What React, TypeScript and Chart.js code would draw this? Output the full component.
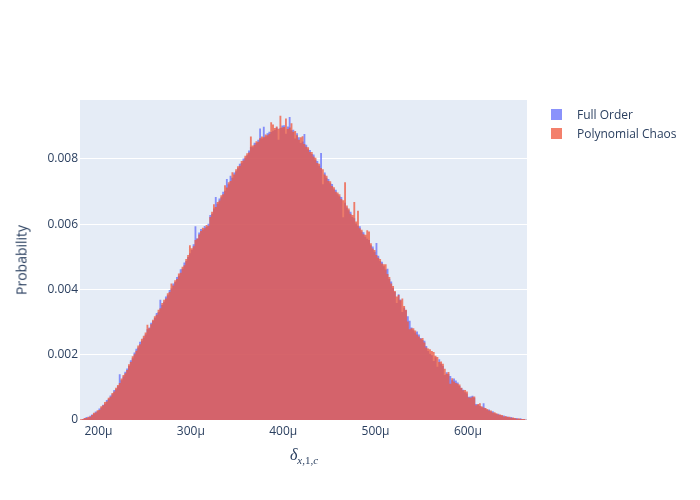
import React, { useEffect, useRef } from "react";
import { Chart, registerables } from "chart.js";

Chart.register(...registerables);

// Histogram bins (in μ): first bin starts at binStart, each bin binSize wide
const binStart = 180;
const binSize = 2;

const seriesNames = ["Full Order", "Polynomial Chaos"];

const fullOrder = [
  0, 0.00002, 0.00005, 0.00009, 0.00008,
  0.00013, 0.00017, 0.00019, 0.00026, 0.00027,
  0.00035, 0.00038, 0.00047, 0.0005, 0.00061,
  0.00064, 0.00075, 0.00079, 0.00092, 0.00094,
  0.00103, 0.0014, 0.00122, 0.00133, 0.00148,
  0.00158, 0.00165, 0.00183, 0.00189, 0.00207,
  0.00218, 0.00222, 0.0024, 0.00243, 0.00252,
  0.00262, 0.00278, 0.00283, 0.00298, 0.00303,
  0.00312, 0.00328, 0.00331, 0.00368, 0.00352,
  0.00362, 0.00378, 0.00382, 0.00398, 0.00403,
  0.00418, 0.00423, 0.00438, 0.00442, 0.00462,
  0.00463, 0.00482, 0.00487, 0.00499, 0.00511,
  0.00521, 0.00538, 0.00593, 0.00556, 0.00574,
  0.00585, 0.00583, 0.00594, 0.00591, 0.00601,
  0.00628, 0.00632, 0.00648, 0.00683, 0.00662,
  0.00678, 0.00682, 0.00699, 0.00702, 0.00738,
  0.00722, 0.00748, 0.00742, 0.00758, 0.00762,
  0.00771, 0.00785, 0.00787, 0.00801, 0.00803,
  0.00811, 0.00825, 0.00837, 0.00835, 0.00849,
  0.00848, 0.00858, 0.00893, 0.00862, 0.00898,
  0.00868, 0.00878, 0.00883, 0.00882, 0.00886,
  0.00888, 0.00896, 0.00858, 0.00894, 0.00902,
  0.00903, 0.00877, 0.00899, 0.00928, 0.00887,
  0.00889, 0.00862, 0.00878, 0.00866, 0.00848,
  0.00853, 0.00876, 0.00843, 0.00829, 0.00827,
  0.00815, 0.00813, 0.00797, 0.00793, 0.00779,
  0.00818, 0.00722, 0.00758, 0.00742, 0.00738,
  0.00725, 0.00723, 0.00707, 0.00705, 0.00691,
  0.00685, 0.00683, 0.00621, 0.00665, 0.00651,
  0.00642, 0.00638, 0.00622, 0.00618, 0.00602,
  0.00595, 0.00593, 0.00577, 0.00575, 0.00561,
  0.00555, 0.00551, 0.00535, 0.00531, 0.00515,
  0.00542, 0.00503, 0.00487, 0.00485, 0.00471,
  0.00461, 0.00463, 0.00432, 0.00424, 0.00404,
  0.00392, 0.00358, 0.00385, 0.00369, 0.00331,
  0.00344, 0.00336, 0.00318, 0.00304, 0.00283,
  0.00275, 0.00268, 0.00271, 0.00262, 0.00251,
  0.00245, 0.00243, 0.00227, 0.00211, 0.00203,
  0.00198, 0.00181, 0.00192, 0.00163, 0.00186,
  0.00172, 0.00165, 0.00138, 0.00146, 0.00141,
  0.00135, 0.00122, 0.00127, 0.00121, 0.00115,
  0.00104, 0.00098, 0.00093, 0.00085, 0.00081,
  0.00071, 0.00072, 0.00074, 0.00068, 0.00049,
  0.00047, 0.00043, 0.00039, 0.00051, 0.00036,
  0.00031, 0.00032, 0.00026, 0.00027, 0.00021,
  0.00018, 0.00019, 0.00015, 0.00013, 0.00014,
  0.0001, 0.00011, 0.00008, 0.00009, 0.00006,
  0.00005, 0.00006, 0.00003, 0.00005, 0.00002,
  0.00002, 0.00001,
];

const polynomialChaos = [
  0.00002, 0.00003, 0.00006, 0.00006, 0.0001,
  0.0001, 0.00015, 0.00022, 0.00023, 0.0003,
  0.00031, 0.00042, 0.00045, 0.00055, 0.00057,
  0.00068, 0.00071, 0.00083, 0.00087, 0.00099,
  0.00107, 0.00113, 0.00127, 0.00138, 0.00143,
  0.00153, 0.00171, 0.00178, 0.00195, 0.00201,
  0.00212, 0.00228, 0.00232, 0.00249, 0.00258,
  0.00268, 0.00292, 0.00281, 0.00293, 0.00307,
  0.00318, 0.00322, 0.00338, 0.00342, 0.00358,
  0.00368, 0.00372, 0.00388, 0.00392, 0.00418,
  0.00412, 0.00428, 0.00432, 0.00449, 0.00451,
  0.00469, 0.00474, 0.00493, 0.00505, 0.00535,
  0.00526, 0.00532, 0.00551, 0.00556, 0.00568,
  0.00579, 0.00589, 0.00587, 0.00597, 0.00595,
  0.00622, 0.00638, 0.00661, 0.00652, 0.00668,
  0.00672, 0.00688, 0.00691, 0.00719, 0.00712,
  0.00728, 0.00732, 0.00759, 0.00752, 0.00768,
  0.00777, 0.00779, 0.00793, 0.00795, 0.00809,
  0.00817, 0.00819, 0.00868, 0.00841, 0.00843,
  0.00854, 0.00852, 0.00863, 0.00868, 0.00866,
  0.00874, 0.00872, 0.00877, 0.00912, 0.00905,
  0.00894, 0.00899, 0.00892, 0.00932, 0.00896,
  0.00897, 0.00923, 0.00891, 0.00896, 0.00909,
  0.00883, 0.00885, 0.00872, 0.00858, 0.00866,
  0.00869, 0.00845, 0.00837, 0.00835, 0.00821,
  0.00821, 0.00807, 0.00803, 0.00787, 0.00785,
  0.00772, 0.00768, 0.00752, 0.00748, 0.00732,
  0.00731, 0.00717, 0.00713, 0.00699, 0.00697,
  0.00691, 0.00677, 0.00673, 0.00728, 0.00657,
  0.00648, 0.00632, 0.00628, 0.00668, 0.00608,
  0.00641, 0.00587, 0.00583, 0.00569, 0.00567,
  0.00581, 0.00577, 0.00541, 0.00525, 0.00521,
  0.00505, 0.00497, 0.00493, 0.00479, 0.00477,
  0.00477, 0.00447, 0.00438, 0.00418, 0.0041,
  0.00395, 0.00378, 0.00383, 0.00367, 0.00372,
  0.00349, 0.00338, 0.00302, 0.00278, 0.00281,
  0.00281, 0.00274, 0.00262, 0.00256, 0.00249,
  0.00251, 0.00237, 0.00222, 0.00219, 0.00217,
  0.00211, 0.00208, 0.00197, 0.00193, 0.00178,
  0.00179, 0.00172, 0.00157, 0.00142, 0.00147,
  0.00111, 0.00128, 0.00118, 0.00113, 0.00111,
  0.00109, 0.00099, 0.00091, 0.00092, 0.00087,
  0.00069, 0.00068, 0.00071, 0.00072, 0.00045,
  0.00049, 0.00051, 0.00042, 0.00038, 0.00037,
  0.00034, 0.00029, 0.00029, 0.00023, 0.00024,
  0.00021, 0.00017, 0.00017, 0.00015, 0.00011,
  0.00012, 0.00009, 0.0001, 0.00007, 0.00008,
  0.00006, 0.00004, 0.00005, 0.00003, 0.00003,
  0.00003, 0.00001,
];

const xTicks = [200, 300, 400, 500, 600];
const yTicks = [0, 0.002, 0.004, 0.006, 0.008];

const FONT = '"Open Sans", "Noto Sans", sans-serif';
const TEXT = "#2a3f5f";
const BLUE = "rgba(99,110,250,0.75)";
const RED = "rgba(239,85,59,0.75)";

// Histogram outline: one point per bin left edge plus the closing right edge;
// drawn as a step ("before") area filled down to zero, so adjacent bins have no seams.
const toSteps = (vals: number[]) => {
  const pts = vals.map((y, i) => ({ x: binStart + binSize * i, y }));
  pts.push({ x: binStart + binSize * vals.length, y: vals[vals.length - 1] });
  return pts;
};

const plotBg = {
  id: "plotBg",
  beforeDraw(chart: any) {
    const { ctx, chartArea: a } = chart;
    ctx.save();
    ctx.fillStyle = "#E5ECF6";
    ctx.fillRect(a.left, a.top, a.right - a.left, a.bottom - a.top);
    ctx.restore();
  },
};

export default function App() {
  const ref = useRef<HTMLCanvasElement | null>(null);

  useEffect(() => {
    if (!ref.current) return;
    const histDataset = (label: string, vals: number[], color: string, order: number) =>
      ({
        label,
        data: toSteps(vals),
        stepped: "before",
        fill: "origin",
        backgroundColor: color,
        borderColor: "rgba(0,0,0,0)",
        borderWidth: 0,
        pointRadius: 0,
        pointHoverRadius: 0,
        order,
      } as any);

    const chart = new Chart(ref.current, {
      type: "line",
      data: {
        datasets: [
          histDataset(seriesNames[0], fullOrder, BLUE, 2),
          histDataset(seriesNames[1], polynomialChaos, RED, 1),
        ],
      },
      options: {
        animation: false,
        responsive: false,
        layout: { padding: { left: 0, top: 100, right: 173, bottom: 0 } },
        plugins: {
          legend: { display: false },
          tooltip: { enabled: false },
        },
        scales: {
          x: {
            type: "linear",
            min: binStart,
            max: binStart + binSize * fullOrder.length,
            offset: false,
            grid: { display: false, drawTicks: false },
            border: { display: false },
            afterBuildTicks: (s: any) => {
              s.ticks = xTicks.map((v) => ({ value: v }));
            },
            afterFit: (s: any) => {
              s.height = 80;
            },
            ticks: {
              autoSkip: false,
              maxRotation: 0,
              padding: 4,
              color: TEXT,
              font: { family: FONT, size: 12 },
              callback: (v: any) => `${v}μ`,
            },
          },
          y: {
            type: "linear",
            min: 0,
            max: 0.0098,
            grid: {
              color: (c: any) =>
                c.tick && c.tick.value === 0 ? "rgba(0,0,0,0)" : "#ffffff",
              lineWidth: 1,
              drawTicks: false,
            },
            border: { display: false },
            afterBuildTicks: (s: any) => {
              s.ticks = yTicks.map((v) => ({ value: v }));
            },
            afterFit: (s: any) => {
              s.width = 80;
            },
            ticks: {
              padding: 2,
              color: TEXT,
              font: { family: FONT, size: 12 },
              callback: (v: any) => (Number(v) === 0 ? "0" : Number(v).toFixed(3)),
            },
          },
        },
      },
      plugins: [plotBg],
    });
    return () => chart.destroy();
  }, []);

  const legendRow = (color: string, label: string, top: number) => (
    <div
      style={{
        position: "absolute",
        left: 551,
        top,
        height: 12,
        display: "flex",
        alignItems: "center",
        fontFamily: FONT,
        fontSize: 12,
        color: TEXT,
        whiteSpace: "nowrap",
      }}
    >
      <span
        style={{
          display: "inline-block",
          width: 11,
          height: 11,
          background: color,
          marginRight: 15,
        }}
      />
      <span>{label}</span>
    </div>
  );

  return (
    <div
      style={{
        position: "absolute",
        left: 0,
        top: 0,
        width: 700,
        height: 500,
        background: "#ffffff",
      }}
    >
      <canvas ref={ref} width={700} height={500} style={{ display: "block" }} />
      {legendRow(BLUE, seriesNames[0], 108)}
      {legendRow(RED, seriesNames[1], 127)}
      <div
        style={{
          position: "absolute",
          left: 21,
          top: 260,
          transform: "translate(-50%, -50%) rotate(-90deg)",
          fontFamily: FONT,
          fontSize: 14,
          color: TEXT,
          whiteSpace: "nowrap",
        }}
      >
        Probability
      </div>
      <div
        style={{
          position: "absolute",
          left: 254,
          width: 100,
          top: 446,
          textAlign: "center",
          fontFamily: '"Liberation Serif", "DejaVu Serif", serif',
          fontSize: 16,
          color: TEXT,
          whiteSpace: "nowrap",
        }}
      >
        <i>δ</i>
        <sub style={{ fontSize: 11 }}>
          <i>x</i>,1,<i>c</i>
        </sub>
      </div>
    </div>
  );
}
